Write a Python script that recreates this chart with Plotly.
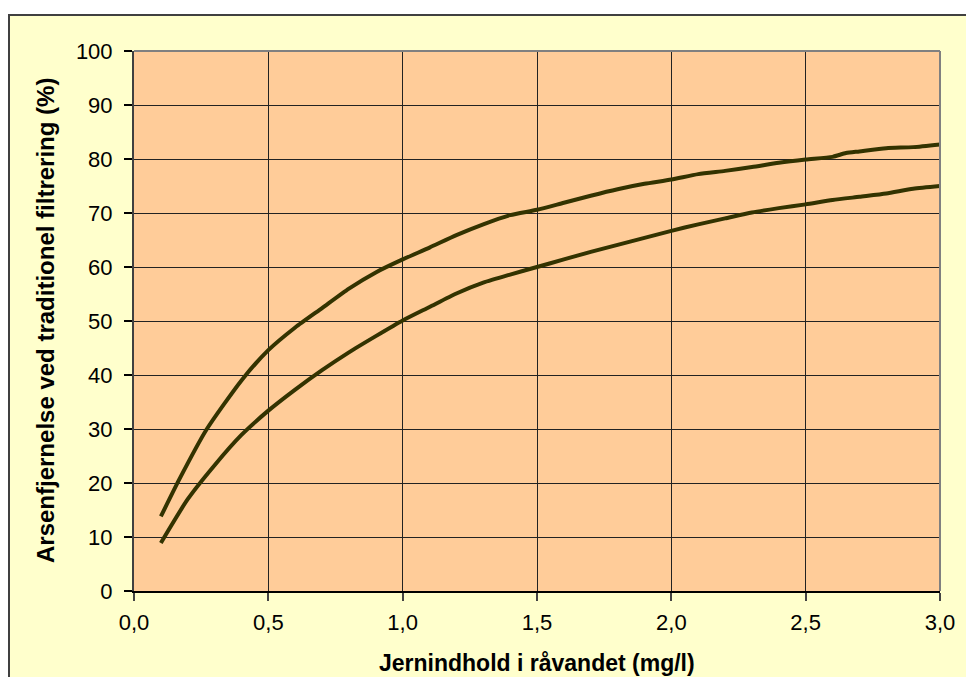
import plotly.graph_objects as go

# Data
upper_x = [0.1, 0.17, 0.27, 0.4, 0.5, 0.6, 0.7, 0.8, 0.9, 1.0, 1.1, 1.2, 1.3, 1.4, 1.5,
           1.6, 1.7, 1.8, 1.9, 2.0, 2.1, 2.2, 2.3, 2.4, 2.5, 2.6, 2.65, 2.7, 2.8, 2.9, 3.0]
upper_y = [13.8, 20.8, 29.9, 39.0, 44.6, 48.8, 52.4, 56.0, 59.0, 61.4, 63.6, 65.9, 67.9, 69.6, 70.6,
           71.9, 73.2, 74.4, 75.4, 76.2, 77.2, 77.8, 78.5, 79.3, 79.9, 80.4, 81.1, 81.4, 82.0, 82.2, 82.7]

lower_x = [0.1, 0.2, 0.3, 0.4, 0.5, 0.6, 0.7, 0.8, 0.9, 1.0, 1.1, 1.2, 1.3, 1.4, 1.5,
           1.6, 1.7, 1.8, 1.9, 2.0, 2.1, 2.2, 2.3, 2.4, 2.5, 2.6, 2.7, 2.8, 2.9, 3.0]
lower_y = [8.9, 17.0, 23.3, 28.9, 33.4, 37.3, 40.9, 44.2, 47.2, 50.1, 52.6, 55.1, 57.1, 58.6, 60.0,
           61.4, 62.8, 64.1, 65.4, 66.7, 67.9, 69.0, 70.1, 70.9, 71.6, 72.4, 73.0, 73.6, 74.5, 75.0]

x_title = "Jernindhold i råvandet (mg/l)"
y_title = "Arsenfjernelse ved traditionel filtrering (%)"

W, H = 966, 677
L, R, T, B = 134, 26, 51, 86
pw, ph = W - L - R, H - T - B

def px_x(p):
    return (p - L) / pw

def px_y(p):
    return (H - B - p) / ph

FONT = "Arial, Liberation Sans, sans-serif"
LINE_COLOR = "#333300"

fig = go.Figure()
for xs, ys in [(upper_x, upper_y), (lower_x, lower_y)]:
    fig.add_trace(go.Scatter(x=xs, y=ys, mode="lines",
                             line=dict(color=LINE_COLOR, width=4, shape="spline", smoothing=0.6),
                             showlegend=False, hoverinfo="skip"))

fig.update_layout(
    width=W, height=H,
    margin=dict(l=L, r=R, t=T, b=B),
    paper_bgcolor="white",
    plot_bgcolor="#FFCC99",
    separators=",.",
    font=dict(family=FONT, size=22, color="black"),
    shapes=[
        dict(type="rect", xref="paper", yref="paper", layer="below",
             x0=px_x(9), x1=px_x(975), y0=px_y(690), y1=px_y(15),
             fillcolor="#FFFFCC", line=dict(color="#404040", width=2)),
        dict(type="rect", xref="paper", yref="paper", layer="below",
             x0=0, x1=1, y0=0, y1=1,
             fillcolor="#FFCC99", line=dict(width=0)),
        dict(type="line", xref="paper", yref="paper", layer="above",
             x0=0, x1=1, y0=1, y1=1, line=dict(color="#808080", width=2)),
        dict(type="line", xref="paper", yref="paper", layer="above",
             x0=1, x1=1, y0=0, y1=1, line=dict(color="#808080", width=2)),
    ],
    annotations=[
        dict(text="<b>" + x_title + "</b>", xref="paper", yref="paper",
             x=0.5, y=px_y(663), xanchor="center", yanchor="middle",
             showarrow=False, font=dict(size=23, family=FONT)),
        dict(text="<b>" + y_title + "</b>", xref="paper", yref="paper",
             x=px_x(45), y=px_y(321), xanchor="center", yanchor="middle", textangle=-90,
             showarrow=False, font=dict(size=24, family=FONT)),
    ],
)

fig.update_xaxes(range=[0, 3], tick0=0, dtick=0.5, tickformat=".1f",
                 showgrid=True, gridcolor="#222222", gridwidth=1,
                 showline=True, linecolor="black", linewidth=2,
                 ticks="outside", ticklen=8, tickcolor="#444444", tickwidth=2,
                 ticklabelstandoff=3, zeroline=False,
                 tickfont=dict(size=22, family=FONT))
fig.update_yaxes(range=[0, 100], tick0=0, dtick=10,
                 showgrid=True, gridcolor="#222222", gridwidth=1,
                 showline=True, linecolor="#404040", linewidth=2,
                 ticks="outside", ticklen=8, tickcolor="black", tickwidth=2,
                 ticklabelstandoff=7, zeroline=False,
                 tickfont=dict(size=22, family=FONT))

fig.write_html("out.html", config={"displayModeBar": False},
               post_script="document.body.style.margin='0';document.body.style.overflow='hidden';")
